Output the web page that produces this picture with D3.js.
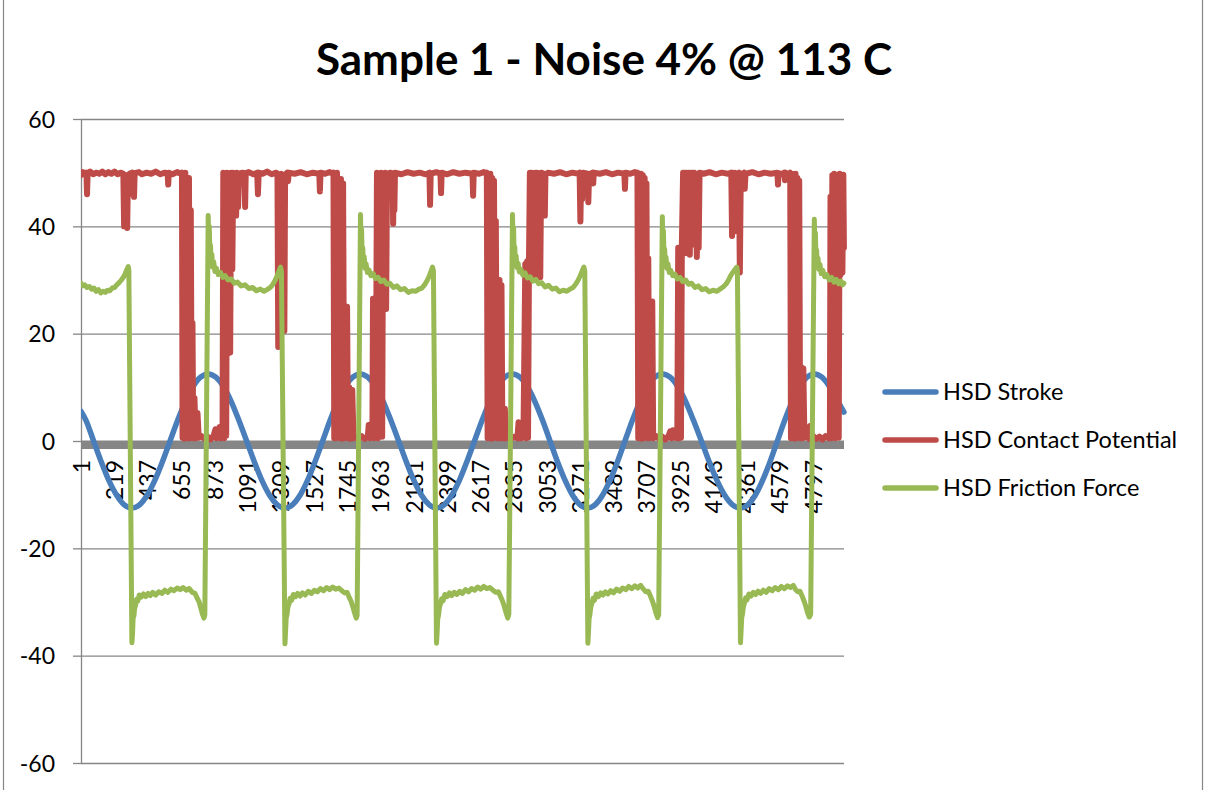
<!DOCTYPE html>
<html>
<head>
<meta charset="utf-8">
<script src="https://cdn.jsdelivr.net/npm/d3@7"></script>
<style>
  html, body { margin: 0; padding: 0; background: #ffffff; }
  svg { display: block; font-family: Lato, "Open Sans", sans-serif; }
</style>
</head>
<body>
<svg id="chart" width="1207" height="790"></svg>
<script>
// ---- data -------------------------------------------------------------
const chartTitle = "Sample 1 - Noise 4% @ 113 C";
const sampleCount = 5000;
const seriesNames = ["HSD Stroke", "HSD Contact Potential", "HSD Friction Force"];
const xTickLabels = ["1","219","437","655","873","1091","1309","1527","1745","1963","2181",
  "2399","2617","2835","3053","3271","3489","3707","3925","4143","4361","4579","4797"];
const yTickValues = [-60, -40, -20, 0, 20, 40, 60];

// [sample index, value]
const hsdStroke = [
  [1,5.5],[33,3.86],[83,0],[133,-3.86],[183,-7.35],[234,-10.11],[284,-11.89],[334,-12.5],
  [384,-11.89],[434,-10.11],[484,-7.35],[534,-3.86],[584,0],[634,3.86],[684,7.35],[734,10.11],[784,11.89],[834,12.5],
  [884,11.89],[935,10.11],[985,7.35],[1035,3.86],[1086,0],[1136,-3.86],[1186,-7.35],[1236,-10.11],[1287,-11.89],[1337,-12.5],
  [1386,-11.89],[1436,-10.11],[1485,-7.35],[1534,-3.86],[1584,0],[1633,3.86],[1682,7.35],[1731,10.11],[1781,11.89],[1830,12.5],
  [1880,11.89],[1931,10.11],[1981,7.35],[2031,3.86],[2082,0],[2132,-3.86],[2182,-7.35],[2232,-10.11],[2283,-11.89],[2330,-12.5],
  [2380,-11.89],[2430,-10.11],[2480,-7.35],[2529,-3.86],[2579,0],[2629,3.86],[2679,7.35],[2728,10.11],[2778,11.89],[2828,12.5],
  [2877,11.89],[2926,10.11],[2975,7.35],[3025,3.86],[3074,0],[3123,-3.86],[3173,-7.35],[3222,-10.11],[3271,-11.89],[3320,-12.5],
  [3369,-11.89],[3418,-10.11],[3467,-7.35],[3516,-3.86],[3565,0],[3614,3.86],[3663,7.35],[3712,10.11],[3761,11.89],[3810,12.5],
  [3861,11.89],[3912,10.11],[3963,7.35],[4014,3.86],[4066,0],[4117,-3.86],[4168,-7.35],[4219,-10.11],[4270,-11.89],[4322,-12.5],
  [4370,-11.89],[4419,-10.11],[4467,-7.35],[4516,-3.86],[4564,0],[4612,3.86],[4661,7.35],[4709,10.11],[4758,11.89],[4806,12.5],
  [4856,11.89],[4906,10.11],[4956,7.6],[5000,5.4]
];

const hsdContactPotential = [
  [1,49.6],[12,50.1],[24,49.7],[36,50],[40,46],[44,49.8],[60,50.2],[80,49.7],[100,50],[120,49.8],[140,50.2],[160,49.7],
  [180,50.1],[200,49.8],[220,50.2],[240,49.7],[260,50],[278,49.8],[283,40],[288,47],[293,44.5],[298,49.5],[303,39.7],
  [308,49],[313,46],[318,49.8],[336,50],[340,46],[344,49.6],[348,45.5],[352,49.9],[380,50.1],[400,49.7],[430,50],
  [460,49.8],[490,50.2],[520,49.7],[550,50],[568,49.8],[572,47.8],[576,50],[600,49.7],[630,50.1],[655,49.8],
  [662,50],[666,0.6],[672,49.5],[678,0.4],[684,50],[690,0.8],[696,48.5],[702,0.5],[708,49],[714,0.5],[720,43],[726,0.6],
  [731,22],[736,0.5],[744,8],[752,0.5],[764,5.2],[772,0.6],[790,0.9],[810,0.4],[830,0.8],[850,0.3],[870,1],[882,2.2],
  [888,0.5],[900,0.8],[908,2.6],[914,0.5],[928,0.6],
  [933,50],[939,0.5],[946,49.8],[952,1],[958,50],[964,16.3],[970,49.5],[978,16.5],[984,50],[992,32],[998,50],[1012,49.6],
  [1017,42],[1022,50],[1030,43.6],[1036,49.8],
  [1060,50],[1072,49.8],[1076,43.6],[1080,49.9],[1100,50.1],[1130,49.7],[1155,50],[1160,46],[1165,50],[1190,49.8],
  [1220,50.2],[1250,49.7],[1280,50],[1288,49.8],[1293,17.5],[1298,49.5],[1312,49.8],[1328,49.5],[1333,20.5],[1338,49.6],
  [1352,50],[1357,48.4],[1362,50],[1400,49.8],[1440,50.1],[1480,49.7],[1520,50],[1562,49.8],[1566,46.5],[1570,50],
  [1600,49.8],[1630,50.1],[1650,49.8],
  [1655,50],[1660,0.5],[1666,49.5],[1672,0.5],[1678,50],[1684,0.6],[1690,48.5],[1697,0.5],[1704,48.8],[1711,0.4],
  [1718,48],[1725,0.5],[1732,24.8],[1738,0.6],[1744,25],[1750,0.5],[1758,10],[1766,0.4],[1770,0.5],[1778,9.5],[1786,0.5],
  [1800,0.8],[1820,0.3],[1840,0.9],[1860,0.4],[1880,0.8],[1886,3],[1893,0.5],[1904,3.2],[1910,0.6],
  [1914,26.5],[1920,0.5],[1926,26],[1932,0.6],[1940,50],[1946,0.5],[1953,49.8],[1960,1],[1967,50],[1974,0.8],[1981,49.5],
  [1988,24.6],[1994,50],[2000,24.6],[2006,49.8],
  [2030,50],[2042,49.8],[2046,40.5],[2050,49.6],[2054,43],[2058,50],[2100,49.7],[2140,50.1],[2180,49.8],[2220,50],
  [2260,49.7],[2284,50],[2288,44],[2292,49.8],[2330,50.1],[2356,49.8],[2360,46.2],[2364,50],[2400,49.7],[2440,50.1],
  [2480,49.8],[2520,50],[2566,49.8],[2570,45.7],[2574,50],[2610,49.8],[2640,50.1],[2655,49.8],
  [2660,50],[2665,0.5],[2671,49.6],[2677,0.6],[2683,49.8],[2689,0.4],[2695,49],[2701,0.5],[2707,48.5],[2713,0.6],
  [2719,41],[2725,0.5],[2731,29.5],[2737,0.5],[2743,30],[2750,0.5],[2756,29],[2762,0.6],
  [2772,0.5],[2778,6],[2786,0.5],[2800,0.9],[2820,0.4],[2840,0.8],[2860,0.5],[2868,3.5],[2874,0.5],[2880,2.5],
  [2886,0.5],[2900,0.8],
  [2912,33],[2918,0.5],[2924,33.5],[2930,0.6],[2936,33],[2942,50],[2948,30],[2954,50],[2960,30.5],[2966,49.8],
  [2972,31],[2978,50],[2984,30],[2990,50],[2997,32],[3003,49.6],[3010,30.5],[3016,50],
  [3036,49.8],[3040,42],[3044,49.6],[3060,50],[3100,49.8],[3140,50.1],[3180,49.7],[3220,50],[3260,49.8],[3268,50],
  [3273,40.9],[3278,49.5],[3284,45],[3290,50],[3320,49.8],[3325,44.5],[3330,49.7],[3353,50],[3357,48],[3361,50],
  [3400,49.8],[3440,50.1],[3480,49.7],[3520,50],[3561,49.8],[3565,47],[3569,50],[3600,49.8],[3630,50.1],[3643,49.8],
  [3647,50],[3652,0.5],[3658,49.6],[3664,0.6],[3670,49.8],[3676,0.4],[3682,49.5],[3688,0.5],[3694,49],[3700,0.6],
  [3706,48],[3712,0.5],[3718,34],[3724,0.5],[3730,26],[3736,0.6],[3744,26],[3750,0.5],
  [3770,0.9],[3790,0.4],[3810,0.8],[3830,0.3],[3850,0.9],[3862,1.8],[3870,0.5],[3880,2],[3888,0.6],[3900,1.5],[3908,0.5],
  [3914,36],[3920,0.5],[3926,36],[3932,0.6],[3938,36.5],[3946,50],[3952,36],[3958,50],[3964,35],[3970,50],[3977,36.5],
  [3983,50],[3990,34.7],[3996,50],[4002,45],[4008,50],[4014,36.6],[4020,50],[4030,49.6],[4036,34.3],[4042,49.8],
  [4048,36],[4054,50],
  [4080,49.8],[4120,50.1],[4160,49.7],[4200,50],[4240,49.8],[4262,50],[4267,38.2],[4272,49.5],[4278,39],[4284,50],
  [4292,45],[4298,49.8],[4312,50],[4318,31.4],[4324,49.6],[4345,50],[4350,47],[4355,49.8],[4400,50.1],[4440,49.7],
  [4480,50],[4520,49.8],[4564,50],[4568,47.8],[4572,49.9],[4600,49.7],[4610,50],[4614,48.6],[4618,50],[4635,49.4],
  [4642,49.8],
  [4648,50],[4653,0.5],[4659,49.8],[4665,0.6],[4671,49.5],[4677,0.4],[4683,49.8],[4689,0.5],[4695,49],[4701,0.6],
  [4707,48.5],[4713,0.5],[4720,13.8],[4727,0.5],[4734,13.5],[4741,0.6],
  [4760,0.8],[4772,0.4],[4778,2.8],[4784,0.5],[4800,0.9],[4820,0.4],[4840,0.8],[4860,0.3],[4880,0.9],[4900,0.5],[4908,0.7],
  [4912,45.5],[4918,0.5],[4924,49.5],[4930,0.6],[4936,49.8],[4942,0.5],[4948,43.7],[4954,0.8],[4960,43.5],[4966,0.6],
  [4972,49.8],[4978,31],[4984,49.5],[4990,31.4],[4996,49.6],[5000,36]
];

const hsdFrictionForce = [
  [1,29.4],[12,28.9],[25,29.1],[40,28.6],[55,28.8],[70,28.3],[85,28.5],[100,27.9],[115,28.2],[130,27.6],[145,27.9],
  [160,27.7],[175,28.1],[190,28],[205,28.5],[220,28.6],[235,29.1],[250,29.5],[265,30],[280,30.6],[292,31.3],[302,32],
  [310,32.5],[314,31.8],
  [334,-37.6],[338,-36],[342,-33],[347,-32.6],[352,-31.2],[358,-30.6],[365,-29.5],[373,-29.8],[382,-28.7],[395,-29.1],
  [410,-28.5],[425,-29],[440,-28.4],[455,-28.8],[470,-28.2],[490,-28.7],[510,-28.1],[530,-28.4],[550,-27.8],[570,-28.2],
  [590,-27.6],[610,-27.9],[630,-27.4],[650,-27.7],[670,-27.3],[690,-27.8],[710,-27.5],[730,-28.2],[748,-28.4],
  [762,-29.3],[775,-30],[786,-31.2],[796,-32.2],[806,-33],[812,-32.4],
  [834,42],[838,37],[841,40],[845,35],[849,36.5],[853,33.5],[858,34.8],[863,32.4],[870,33.4],[878,31.6],[888,32.2],
  [900,31],[915,31.4],[930,30.5],[945,30.8],[965,30],[985,30.2],[1005,29.4],[1025,29.6],[1050,28.9],[1075,29.1],
  [1100,28.4],[1125,28.6],[1150,28],[1175,28.3],[1200,27.9],[1220,28.2],[1240,28.6],[1258,29.2],[1272,29.9],
  [1286,30.8],[1298,31.7],[1308,32.4],[1314,31.6],
  [1337,-37.8],[1341,-35.5],[1345,-33],[1350,-32.4],[1356,-31],[1363,-30.4],[1371,-29.3],[1380,-29.7],[1392,-28.6],
  [1406,-29],[1420,-28.4],[1436,-28.9],[1452,-28.3],[1470,-28.7],[1490,-28],[1510,-28.4],[1530,-27.8],[1550,-28.1],
  [1570,-27.5],[1590,-27.9],[1610,-27.3],[1630,-27.7],[1650,-27.2],[1670,-27.6],[1690,-27.4],[1710,-27.9],[1728,-28.3],
  [1744,-28.2],[1758,-29.1],[1771,-29.9],[1783,-31],[1794,-32.1],[1804,-33],[1810,-32.5],
  [1832,42.2],[1836,36.5],[1839,39.5],[1843,34.6],[1847,36],[1851,33],[1856,34.4],[1862,32.2],[1869,33],[1877,31.4],
  [1887,31.9],[1900,30.8],[1915,31.2],[1930,30.3],[1948,30.5],[1966,29.7],[1985,30],[2005,29.2],[2025,29.4],
  [2048,28.6],[2070,28.9],[2095,28.2],[2120,28.4],[2145,27.7],[2170,28],[2195,27.9],[2215,28.3],[2235,28.5],
  [2252,29.1],[2267,29.8],[2282,30.7],[2294,31.6],[2304,32.4],[2310,31.7],
  [2330,-37.7],[2334,-35.8],[2338,-33.2],[2343,-32.5],[2349,-31.1],[2356,-30.3],[2364,-29.4],[2373,-29.8],[2385,-28.6],
  [2400,-29],[2415,-28.3],[2430,-28.8],[2446,-28.2],[2464,-28.6],[2482,-28],[2500,-28.4],[2520,-27.7],[2540,-28.1],
  [2560,-27.5],[2580,-27.8],[2600,-27.2],[2620,-27.6],[2640,-27.1],[2660,-27.5],[2680,-27.3],[2700,-27.8],[2718,-28.2],
  [2736,-28.1],[2750,-29],[2763,-29.8],[2775,-30.9],[2786,-32],[2797,-33],[2804,-32.3],
  [2828,42.2],[2832,36.8],[2835,39.8],[2839,34.8],[2843,36.2],[2847,33.2],[2852,34.5],[2858,32.3],[2865,33.1],
  [2873,31.5],[2883,32],[2896,30.9],[2911,31.3],[2926,30.4],[2944,30.6],[2962,29.8],[2981,30.1],[3000,29.3],
  [3020,29.5],[3042,28.7],[3064,29],[3088,28.3],[3112,28.5],[3136,27.8],[3160,28.1],[3184,27.9],[3205,28.3],
  [3225,28.6],[3242,29.2],[3257,29.9],[3272,30.8],[3285,31.7],[3296,32.4],[3302,31.6],
  [3322,-37.7],[3326,-35.6],[3330,-33.1],[3335,-32.4],[3341,-31],[3348,-30.3],[3356,-29.3],[3365,-29.7],[3377,-28.5],
  [3391,-29],[3406,-28.3],[3421,-28.7],[3437,-28.1],[3454,-28.5],[3472,-27.9],[3490,-28.3],[3510,-27.6],[3530,-28],
  [3550,-27.4],[3570,-27.7],[3590,-27.1],[3610,-27.5],[3630,-27],[3650,-27.4],[3668,-26.9],[3686,-27.6],[3702,-28.1],
  [3718,-28],[3732,-28.9],[3745,-29.8],[3757,-30.9],[3768,-32],[3779,-32.9],[3786,-32.4],
  [3810,41.8],[3814,36.4],[3817,39.2],[3821,34.5],[3825,35.8],[3829,33],[3834,34.3],[3840,32.2],[3847,33],[3855,31.4],
  [3865,31.8],[3878,30.8],[3893,31.1],[3908,30.2],[3926,30.5],[3944,29.7],[3963,30],[3982,29.2],[4002,29.4],
  [4024,28.6],[4046,28.9],[4070,28.2],[4094,28.4],[4118,27.8],[4142,28.1],[4166,27.9],[4188,28.3],[4208,28.7],
  [4226,29.2],[4242,29.9],[4258,30.8],[4272,31.4],[4284,31.9],[4292,32.2],[4298,32.4],[4302,31.7],
  [4322,-37.6],[4326,-35.4],[4330,-33],[4335,-32.3],[4341,-30.9],[4348,-30.2],[4356,-29.2],[4365,-29.6],[4377,-28.5],
  [4391,-28.9],[4406,-28.2],[4421,-28.6],[4437,-28],[4454,-28.4],[4472,-27.8],[4490,-28.2],[4510,-27.5],[4530,-27.9],
  [4550,-27.3],[4570,-27.7],[4590,-27.1],[4610,-27.5],[4630,-27],[4650,-27.3],[4668,-26.9],[4684,-27.7],[4698,-28.1],
  [4712,-28],[4726,-28.9],[4739,-29.8],[4751,-30.9],[4762,-32],[4773,-32.8],[4782,-32.3],
  [4806,41.3],[4810,36],[4813,38.8],[4817,34.2],[4821,35.6],[4825,32.8],[4830,34.1],[4836,32],[4843,32.9],[4851,31.2],
  [4861,31.8],[4874,30.6],[4889,31],[4904,30],[4920,30.5],[4935,29.6],[4950,30.1],[4965,29.3],[4980,29.8],
  [4992,29.1],[5000,29.4]
];

// ---- layout -----------------------------------------------------------
const svg = d3.select("#chart");
const plot = { left: 81, right: 844, top: 119, bottom: 763 };
const gridColor = "#868686";
const colors = ["#4A7EBB", "#BE4B48", "#98B954"];
const widths = [5.5, 6, 5];
const labelFont = "Lato, sans-serif";

// category axis: each sample occupies one slot, point at slot centre
const x = d3.scaleLinear().domain([0.5, sampleCount + 0.5]).range([plot.left, plot.right]);
const y = d3.scaleLinear().domain([-60, 60]).range([plot.bottom, plot.top]);

// chart frame
svg.append("path")
  .attr("d", "M3.5,0V790M1202.5,0V790")
  .attr("stroke", gridColor).attr("stroke-width", 1.2).attr("fill", "none");

// title
svg.append("text")
  .attr("x", 604).attr("y", 75)
  .attr("text-anchor", "middle")
  .style("font-weight", "bold").style("font-size", "44px").attr("fill", "#000")
  .text(chartTitle);

// horizontal gridlines
const grid = svg.append("g").attr("transform", `translate(${plot.left},0)`)
  .call(d3.axisLeft(y).tickValues(yTickValues.filter(v => v !== 0))
    .tickSize(-(plot.right - plot.left)).tickFormat(""));
grid.select(".domain").remove();
grid.selectAll("line").attr("stroke", gridColor).attr("stroke-width", 1.3);

// value axis with outside tick marks and labels (plain hyphen for negatives)
const yAxis = svg.append("g").attr("transform", `translate(${plot.left},0)`)
  .call(d3.axisLeft(y).tickValues(yTickValues).tickFormat(d => String(d))
    .tickSize(8).tickPadding(18).tickSizeOuter(0));
yAxis.select(".domain").attr("stroke", gridColor).attr("stroke-width", 1.3);
yAxis.selectAll(".tick line").attr("stroke", gridColor).attr("stroke-width", 1.3);
yAxis.selectAll("text")
  .style("font-family", labelFont).style("font-size", "23px").attr("fill", "#000")
  .attr("dy", "0.36em");

// heavy zero axis
svg.append("rect")
  .attr("x", plot.left).attr("y", y(0) - 0.5)
  .attr("width", plot.right - plot.left).attr("height", 8.5)
  .attr("fill", gridColor);

// category labels, rotated
const xAxis = svg.append("g").attr("transform", `translate(0,${y(0)})`)
  .call(d3.axisBottom(x).tickValues(xTickLabels.map(Number)).tickFormat(d => String(d)).tickSize(0));
xAxis.select(".domain").remove();
xAxis.selectAll("text")
  .attr("y", 0).attr("x", -19).attr("dy", "0.36em")
  .attr("transform", "rotate(-90)")
  .style("text-anchor", "end")
  .style("font-family", labelFont).style("font-size", "23px").attr("fill", "#000");

// series
svg.append("clipPath").attr("id", "plotClip")
  .append("rect").attr("x", plot.left).attr("y", plot.top - 10)
  .attr("width", plot.right - plot.left + 4).attr("height", plot.bottom - plot.top + 20);

const straight = d3.line().x(d => x(d[0])).y(d => y(d[1]));
const smooth = d3.line().x(d => x(d[0])).y(d => y(d[1])).curve(d3.curveMonotoneX);

const seriesData = [hsdStroke, hsdContactPotential, hsdFrictionForce];
const layer = svg.append("g").attr("clip-path", "url(#plotClip)");
seriesData.forEach((data, i) => {
  layer.append("path")
    .datum(data)
    .attr("d", i === 0 ? smooth : straight)
    .attr("fill", "none")
    .attr("stroke", colors[i])
    .attr("stroke-width", widths[i])
    .attr("stroke-linejoin", "round")
    .attr("stroke-linecap", "round");
});

// legend
const legend = svg.append("g");
seriesNames.forEach((name, i) => {
  const ly = 392 + i * 48;
  legend.append("line")
    .attr("x1", 885).attr("x2", 936).attr("y1", ly).attr("y2", ly)
    .attr("stroke", colors[i]).attr("stroke-width", 5.5).attr("stroke-linecap", "round");
  legend.append("text")
    .attr("x", 943).attr("y", ly).attr("dy", "0.36em")
    .style("font-family", labelFont).style("font-size", "23.5px").attr("fill", "#000")
    .text(name);
});
</script>
</body>
</html>
